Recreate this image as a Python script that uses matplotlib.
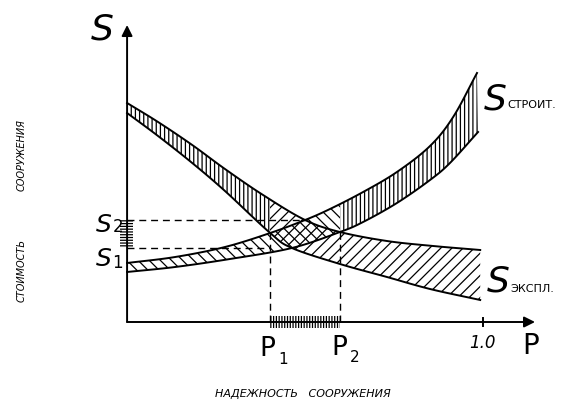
import numpy as np
import matplotlib
matplotlib.use("Agg")
import matplotlib.pyplot as plt
from matplotlib.patches import Rectangle

plt.rcParams['font.family'] = ['DejaVu Sans']
plt.rcParams['hatch.linewidth'] = 0.9

# construction cost band (rising)
p_str_up = [0, 0.135, 0.275, 0.402, 0.5, 0.570, 0.663, 0.758, 0.851, 0.916, 0.983]
s_str_up = [0.59, 0.65, 0.75, 0.89, 1.02, 1.13, 1.30, 1.50, 1.76, 2.05, 2.49]
p_str_lo = [0, 0.135, 0.289, 0.463, 0.598, 0.663, 0.758, 0.851, 0.907, 0.986]
s_str_lo = [0.50, 0.55, 0.63, 0.74, 0.90, 1.00, 1.19, 1.42, 1.59, 1.90]

# operating cost band (falling)
p_exp_up = [0, 0.087, 0.183, 0.275, 0.382, 0.5, 0.598, 0.730, 0.86, 0.992]
s_exp_up = [2.19, 2.00, 1.77, 1.53, 1.27, 1.02, 0.90, 0.81, 0.76, 0.72]
p_exp_lo = [0, 0.087, 0.183, 0.275, 0.402, 0.463, 0.598, 0.730, 0.851, 0.992]
s_exp_lo = [2.09, 1.86, 1.59, 1.31, 0.89, 0.74, 0.58, 0.45, 0.33, 0.22]

P1, P2 = 0.402, 0.598
S1, S2 = 0.74, 1.02
P1_top, P2_top = 0.89, 0.90


def smooth(px, sy, n=12):
    # catmull-rom through the read points, only for drawing
    p = np.column_stack([px, sy]).astype(float)
    p = np.vstack([2 * p[0] - p[1], p, 2 * p[-1] - p[-2]])
    out = []
    t = np.linspace(0, 1, n, endpoint=False)[:, None]
    for i in range(1, len(p) - 2):
        a, b, c, d = p[i - 1], p[i], p[i + 1], p[i + 2]
        seg = 0.5 * (2 * b + (-a + c) * t + (2 * a - 5 * b + 4 * c - d) * t ** 2
                     + (-a + 3 * b - 3 * c + d) * t ** 3)
        out.append(seg)
    out.append(p[-2][None, :])
    out = np.vstack(out)
    return out[:, 0], out[:, 1]


fig = plt.figure(figsize=(5.66, 4.01), dpi=100)
ax = fig.add_axes([0, 0, 1, 1])
ax.set_xlim(-0.357, 1.233)
ax.set_ylim(-0.79, 3.22)
ax.set_axis_off()


def band(px_up, sy_up, px_lo, sy_lo, parts):
    xu, yu = smooth(px_up, sy_up)
    xl, yl = smooth(px_lo, sy_lo)
    xs = np.concatenate([xu, xl[::-1]])
    ys = np.concatenate([yu, yl[::-1]])
    for lo, hi, hatch in parts:
        poly = ax.fill(xs, ys, facecolor='none', edgecolor='black',
                       hatch=hatch, lw=0)[0]
        clip = Rectangle((lo, -1), hi - lo, 5, transform=ax.transData)
        poly.set_clip_path(clip)
    ax.plot(xu, yu, color='black', lw=1.4)
    ax.plot(xl, yl, color='black', lw=1.4)


band(p_str_up, s_str_up, p_str_lo, s_str_lo,
     [(-0.1, P2, 3 * '\\'), (P2, 1.1, '||||')])
band(p_exp_up, s_exp_up, p_exp_lo, s_exp_lo,
     [(-0.1, P1, '||||'), (P1, 1.1, '///')])

# dashed guides
dash = (0, (5, 3.5))
ax.plot([0, 0.5], [S2, S2], color='black', lw=1, ls=dash)
ax.plot([0, P1], [S1, S1], color='black', lw=1, ls=dash)
ax.plot([P1, P1], [0, P1_top], color='black', lw=1, ls=dash)
ax.plot([P2, P2], [0, P2_top], color='black', lw=1, ls=dash)

# hatched intervals on the axes
ax.add_patch(Rectangle((-0.02, S1), 0.037, S2 - S1, facecolor='none',
                       edgecolor='black', hatch='------', lw=0))
ax.add_patch(Rectangle((P1, -0.06), P2 - P1, 0.12, facecolor='none',
                       edgecolor='black', hatch='||||||', lw=0))

# axes with arrows
arrow = dict(arrowstyle='-|>', color='black', lw=1.4, mutation_scale=16,
             shrinkA=0, shrinkB=0)
ax.annotate('', xy=(0, 2.97), xytext=(0, 0), arrowprops=arrow)
ax.annotate('', xy=(1.146, 0), xytext=(0, 0), arrowprops=arrow)
ax.plot([1.0, 1.0], [-0.04, 0.04], color='black', lw=1.4)

# labels
big = dict(fontsize=26, fontstyle='italic', ha='center', va='center')
ax.text(-0.070, 2.92, 'S', **big)
ax.text(1.034, 2.22, 'S', **big)
ax.text(1.067, 2.17, 'СТРОИТ.', fontsize=8, ha='left', va='center')
ax.text(1.042, 0.40, 'S', **big)
ax.text(1.076, 0.33, 'ЭКСПЛ.', fontsize=8, ha='left', va='center')

mid = dict(fontsize=18, fontstyle='italic', ha='center', va='center')
ax.text(-0.066, 0.97, 'S', **mid)
ax.text(-0.024, 0.95, '2', fontsize=12, ha='center', va='center')
ax.text(-0.066, 0.63, 'S', **mid)
ax.text(-0.026, 0.59, '1', fontsize=12, ha='center', va='center')

ax.text(0.394, -0.27, 'P', fontsize=19, ha='center', va='center')
ax.text(0.437, -0.37, '1', fontsize=11, ha='center', va='center')
ax.text(0.596, -0.26, 'P', fontsize=19, ha='center', va='center')
ax.text(0.639, -0.36, '2', fontsize=11, ha='center', va='center')
ax.text(0.997, -0.21, '1.0', fontsize=12, fontstyle='italic',
        ha='center', va='center')
ax.text(1.135, -0.24, 'P', fontsize=20, ha='center', va='center')

ax.text(0.494, -0.72, 'НАДЕЖНОСТЬ   СООРУЖЕНИЯ', fontsize=8,
        fontstyle='italic', ha='center', va='center')
ax.text(-0.295, 0.52, 'СТОИМОСТЬ', fontsize=7, fontstyle='italic',
        rotation=90, ha='center', va='center')
ax.text(-0.295, 1.67, 'СООРУЖЕНИЯ', fontsize=7, fontstyle='italic',
        rotation=90, ha='center', va='center')

fig.savefig('out.png', dpi=100)
